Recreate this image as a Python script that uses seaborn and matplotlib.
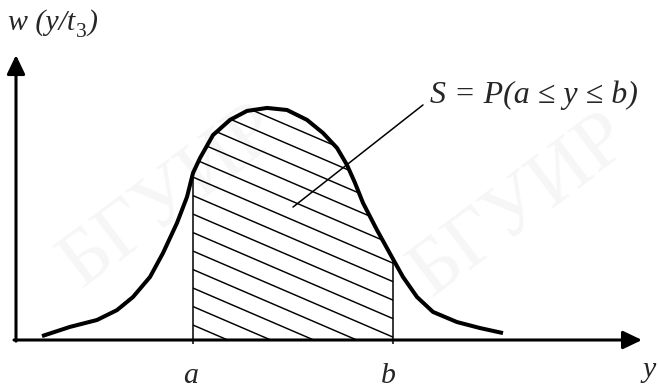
import numpy as np
import matplotlib
matplotlib.use("Agg")
import matplotlib.pyplot as plt
import seaborn as sns
from matplotlib.patches import Polygon

# Probability density w(y/t3) sampled along y
y_vals = [0.26, 0.54, 0.81, 1.01, 1.17, 1.34, 1.47, 1.61, 1.71, 1.77, 1.84,
          1.97, 2.14, 2.31, 2.51, 2.71, 2.91, 3.07, 3.21, 3.31, 3.39, 3.47,
          3.61, 3.77, 3.87, 4.01, 4.17, 4.41, 4.64, 4.87]
w_vals = [0.017, 0.057, 0.087, 0.130, 0.187, 0.274, 0.378, 0.509, 0.622, 0.726,
          0.791, 0.891, 0.957, 0.996, 1.009, 1.000, 0.957, 0.900, 0.835, 0.761,
          0.683, 0.596, 0.478, 0.352, 0.274, 0.187, 0.122, 0.078, 0.052, 0.030]

# Interval bounds
a_val = 1.77
b_val = 3.77

# Text
x_label = "y"
y_label = "w (y/t"
y_label_sub = "3"
y_label_end = ")"
area_label = "S = P(a ≤ y ≤ b)"
a_label = "a"
b_label = "b"
watermark = "БГУИР"

sns.set_theme(style="white")
plt.rcParams["font.family"] = ["Liberation Serif", "DejaVu Serif"]

SERIF = ["Liberation Serif", "DejaVu Serif"]
FS = 21.5

fig = plt.figure(figsize=(6.58, 3.90), dpi=100)
ax = fig.add_axes([0, 0, 1, 1])
ax.set_xlim(-0.16, 6.42)
ax.set_ylim(-50 / 230, 340 / 230)
ax.axis("off")

# faint background stamp
for (wx, wy) in [(1.55, 0.62), (5.05, 0.58)]:
    ax.text(wx, wy, watermark, rotation=37, fontsize=58, color="#f6f6f6",
            ha="center", va="center", family=SERIF, zorder=0)

# coordinate axes with arrowheads
arrow_style = "-|>,head_length=1.15,head_width=0.55"
ax.annotate("", xy=(6.26, 0.0), xytext=(-0.02, 0.0),
            arrowprops=dict(arrowstyle=arrow_style, mutation_scale=10,
                            lw=2.2, color="black", shrinkA=0, shrinkB=0),
            zorder=4)
ax.annotate("", xy=(0.0, 1.239), xytext=(0.0, -0.005),
            arrowprops=dict(arrowstyle=arrow_style, mutation_scale=10,
                            lw=2.2, color="black", shrinkA=0, shrinkB=0),
            zorder=4)

# density curve
sns.lineplot(x=y_vals, y=w_vals, ax=ax, color="black", lw=2.9, sort=False,
             zorder=5)
ax.lines[-1].set_solid_capstyle("butt")
ax.lines[-1].set_solid_joinstyle("round")

# shaded region a <= y <= b, hatched with parallel slanted strokes
yv = np.array(y_vals)
wv = np.array(w_vals)
inside = (yv >= a_val) & (yv <= b_val)
region = [(a_val, 0.0)] + list(zip(yv[inside], wv[inside])) + [(b_val, 0.0)]
region_patch = Polygon(region, closed=True, facecolor="none",
                       edgecolor="none")
ax.add_patch(region_patch)

hatch_slope = 0.187
hatch_step = 0.0804
hatch_start = 0.065
for k in range(16):
    c = hatch_start + k * hatch_step
    ln, = ax.plot([a_val, b_val], [c, c - hatch_slope * (b_val - a_val)],
                  color="black", lw=1.05, zorder=3)
    ln.set_clip_path(region_patch)

# bounds of the interval
ax.vlines([a_val, b_val], -0.018,
          [wv[yv == a_val][0], wv[yv == b_val][0]],
          color="black", lw=1.1, zorder=3)

# leader to the area label
ax.plot([2.77, 4.07], [0.578, 1.022], color="black", lw=1.1, zorder=6)
ax.text(4.14, 1.030, area_label, fontsize=23, style="italic", family=SERIF,
        ha="left", va="baseline")

# vertical axis caption with subscript
t1 = ax.text(-0.08, 1.348, y_label, fontsize=FS, style="italic",
             family=SERIF, ha="left", va="baseline")
fig.canvas.draw()
bb = t1.get_window_extent()
x_sub = ax.transData.inverted().transform((bb.x1 + 1, 0))[0]
t2 = ax.text(x_sub, 1.348 - 0.030, y_label_sub, fontsize=FS * 0.72,
             family=SERIF, ha="left", va="baseline")
fig.canvas.draw()
bb2 = t2.get_window_extent()
x_end = ax.transData.inverted().transform((bb2.x1 + 1, 0))[0]
ax.text(x_end, 1.348, y_label_end, fontsize=FS, style="italic",
        family=SERIF, ha="left", va="baseline")

ax.text(6.27, -0.161, x_label, fontsize=FS, style="italic", family=SERIF,
        ha="left", va="baseline")
ax.text(1.745, -0.185, a_label, fontsize=FS, style="italic", family=SERIF,
        ha="center", va="baseline")
ax.text(3.72, -0.188, b_label, fontsize=FS, style="italic", family=SERIF,
        ha="center", va="baseline")

fig.savefig("out.png", dpi=100, facecolor="white")
